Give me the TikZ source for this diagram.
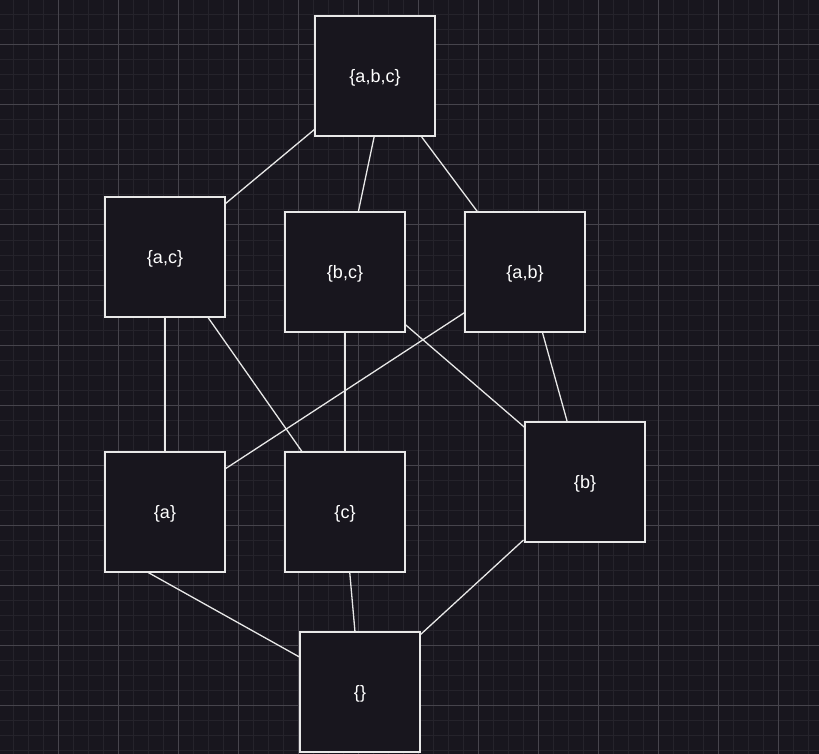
\documentclass[tikz,border=0pt]{standalone}
\usepackage{fontspec}
\setmainfont{Liberation Sans}
\usetikzlibrary{calc}
\definecolor{bgc}{RGB}{24,22,30}
\definecolor{minorc}{RGB}{37,35,43}
\definecolor{majorc}{RGB}{70,68,76}
\definecolor{edgec}{RGB}{232,232,232}
\newcommand{\setlabel}[1]{\raisebox{-2pt}[\height][\depth]{#1}}
\tikzset{
  setbox/.style={draw=edgec, fill=bgc, line width=1.3pt, minimum size=120pt, inner sep=0pt, outer sep=0pt,
    text=white, font=\fontsize{18}{21}\selectfont},
  link/.style={draw=edgec, line width=1.3pt}
}
\begin{document}
\begin{tikzpicture}[x=1pt,y=-1pt]
\fill[bgc] (0,0) rectangle (819,754);
\useasboundingbox (0,0) rectangle (819,754);
% minor grid
\foreach \i in {0,...,54} {\draw[minorc, line width=1pt] ({13.3+15*\i-15},0) -- ({13.3+15*\i-15},754);}
\foreach \j in {0,...,50} {\draw[minorc, line width=1pt] (0,{15*\j}) -- (819,{15*\j});}
% major grid
\foreach \i in {0,...,13} {\draw[majorc, line width=1pt] ({58.3+60*\i-60},0) -- ({58.3+60*\i-60},754);}
\foreach \j in {0,...,12} {\draw[majorc, line width=1pt] (0,{45+60*\j-60}) -- (819,{45+60*\j-60});}

\node[setbox] (abc) at (375,76) {\setlabel{\{a,b,c\}}};
\node[setbox] (ac) at (165,257) {\setlabel{\{a,c\}}};
\node[setbox] (bc) at (345,272) {\setlabel{\{b,c\}}};
\node[setbox] (ab) at (525,272) {\setlabel{\{a,b\}}};
\node[setbox] (a) at (165,512) {\setlabel{\{a\}}};
\node[setbox] (c) at (345,512) {\setlabel{\{c\}}};
\node[setbox] (b) at (585,482) {\setlabel{\{b\}}};
\node[setbox] (e) at (360,692) {\setlabel{\{\}}};

\draw[link] ($(abc.south west)+(0,-7)$) -- ($(ac.north east)+(0,7)$);
\draw[link] ($(abc.south)+(-0.7,0)$) -- ($(bc.north)+(13.3,0)$);
\draw[link] ($(abc.south east)+(-14,0)$) -- ($(ab.north west)+(12.7,0)$);
\draw[link] (ac.south) -- (a.north);
\draw[link] ($(ac.south east)+(-17.3,0)$) -- ($(c.north west)+(17.3,0)$);
\draw[link] (bc.south) -- (c.north);
\draw[link] ($(bc.south east)+(0,-7.7)$) -- ($(b.north west)+(0,5.7)$);
\draw[link] ($(ab.south west)+(0,-19.7)$) -- ($(a.north east)+(0,17)$);
\draw[link] ($(ab.south)+(17.3,0)$) -- ($(b.north)+(-17.7,0)$);
\draw[link] ($(a.south)+(-17.7,0)$) -- ($(e.north west)+(0,25.3)$);
\draw[link] ($(c.south)+(4.7,0)$) -- ($(e.north)+(-5,0)$);
\draw[link] ($(e.north east)+(0,3)$) -- ($(b.south west)+(-1.5,-2)$);
\end{tikzpicture}
\end{document}
